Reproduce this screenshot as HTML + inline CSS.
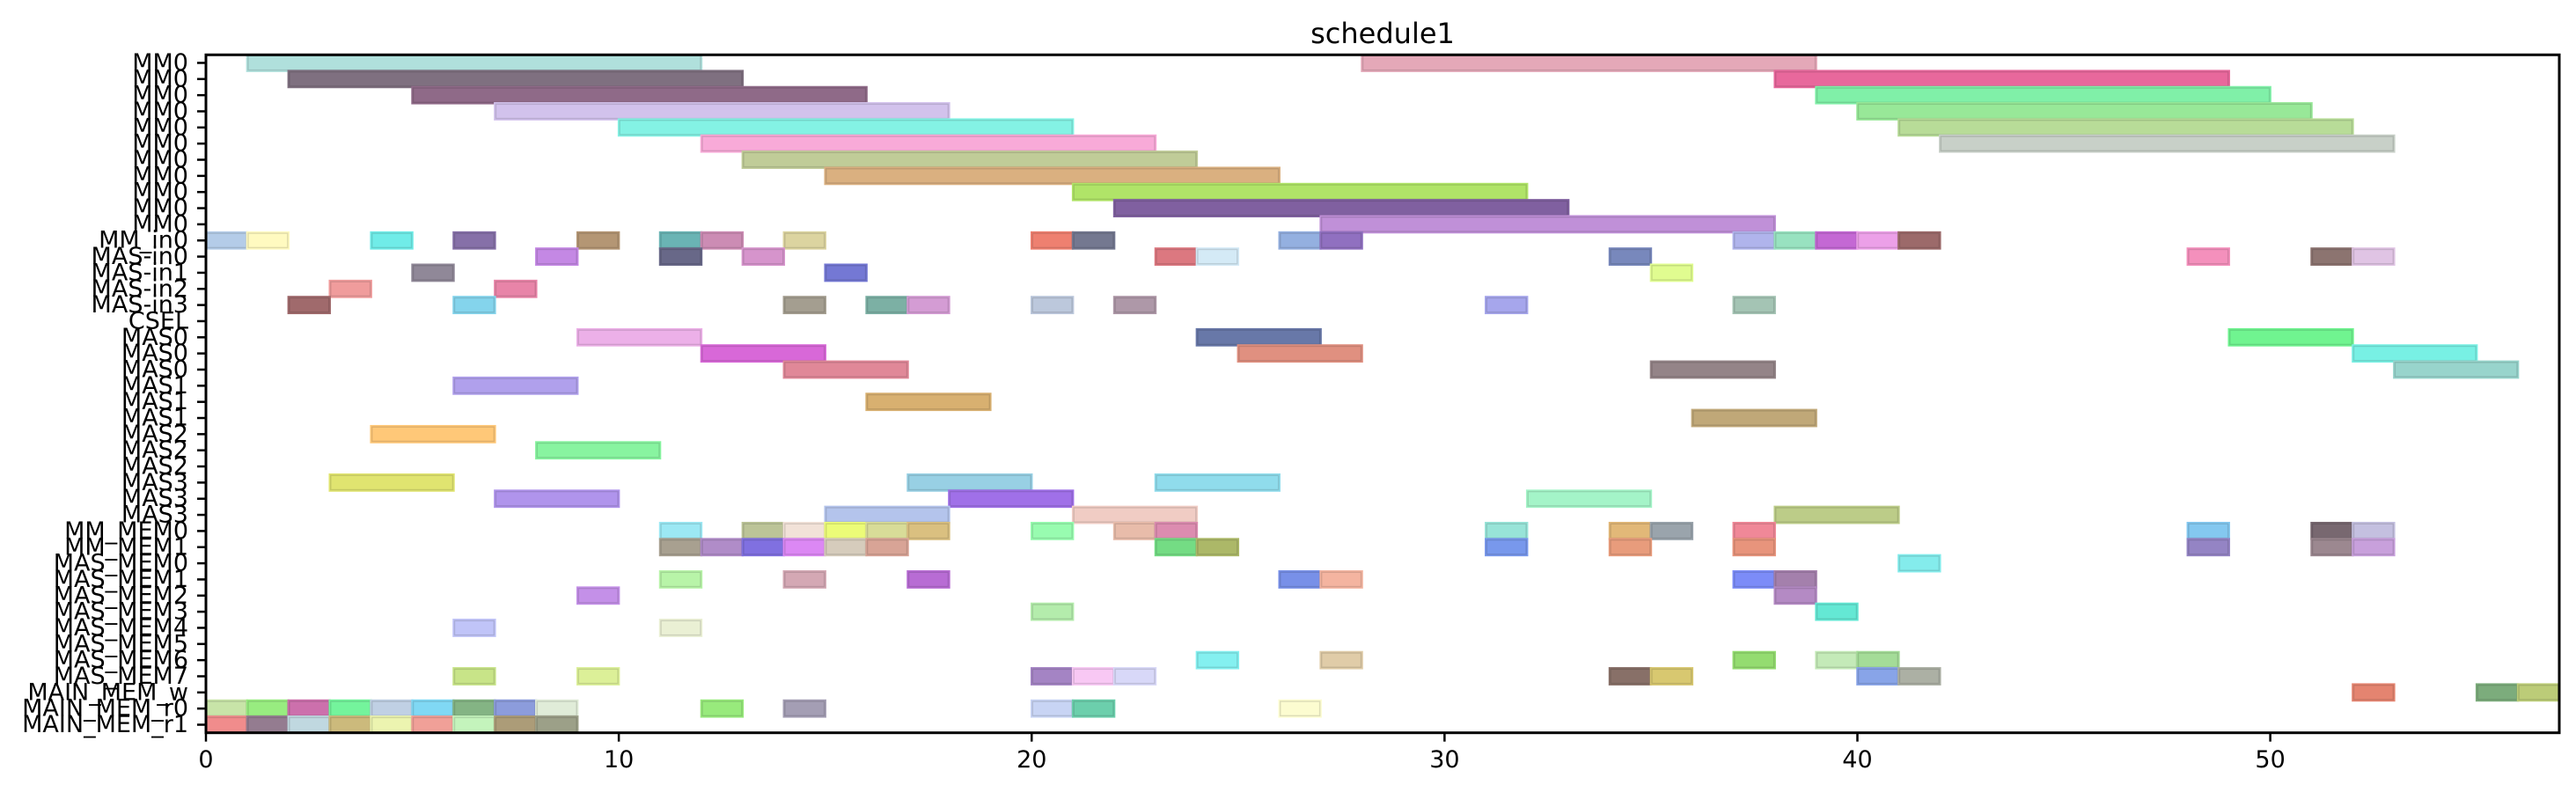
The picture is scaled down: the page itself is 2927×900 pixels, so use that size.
<!DOCTYPE html>
<html><head><meta charset="utf-8"><title>schedule1</title>
<style>html,body{margin:0;padding:0;background:#fff;}svg{display:block;font-family:"DejaVu Sans","Liberation Sans",sans-serif;}</style>
</head><body>
<svg id="chart" xmlns="http://www.w3.org/2000/svg" width="2927" height="900" viewBox="0 0 2927 900">
<rect width="2927" height="900" fill="#fff"/>
<text x="1571" y="38" font-size="32" text-anchor="middle" dominant-baseline="central">schedule1</text>
<defs><clipPath id="plotclip"><rect x="234" y="62" width="2674" height="771"/></clipPath></defs>
<g id="bars" clip-path="url(#plotclip)"></g>
<g id="axes"></g>
</svg>
<script>
const rowLabels = ["MM0","MM0","MM0","MM0","MM0","MM0","MM0","MM0","MM0","MM0","MM0","MM_in0","MAS-in0","MAS-in1","MAS-in2","MAS-in3","CSEL","MAS0","MAS0","MAS0","MAS1","MAS1","MAS1","MAS2","MAS2","MAS2","MAS3","MAS3","MAS3","MM_MEM0","MM_MEM1","MAS_MEM0","MAS_MEM1","MAS_MEM2","MAS_MEM3","MAS_MEM4","MAS_MEM5","MAS_MEM6","MAS_MEM7","MAIN_MEM_w","MAIN_MEM_r0","MAIN_MEM_r1"];
const xTicks = [0,10,20,30,40,50];
const rowStarts = [
[1,28],[2,38],[5,39],[7,40],[10,41],[12,42],[13],[15],[21],[22],[27],
[0,1,4,6,9,11,12,14,20,21,26,27,37,38,39,40,41],
[8,11,13,23,24,34,48,51,52],
[5,15,35],
[3,7],
[2,6,14,16,17,20,22,31,37],
[],
[9,24,49],[12,25,52],[14,35,53],
[6],[16],[36],
[4],[8],[],
[3,17,23],[7,18,32],[15,21,38],
[11,13,14,15,16,17,20,22,23,31,34,35,37,48,51,52],
[11,12,13,14,15,16,23,24,31,34,37,48,51,52],
[41],
[11,14,17,26,27,37,38],
[9,38],
[20,39],
[6,11],
[],
[24,27,37,39,40],
[6,9,20,21,22,34,35,40,41],
[52,55,56],
[0,1,2,3,4,5,6,7,8,12,14,20,21,26],
[0,1,2,3,4,5,6,7,8]
];
const rowDurs = rowStarts.map((a,i)=> i<=10 ? a.map(()=>11) : (i>=17 && i<=28 ? a.map(()=>3) : a.map(()=>1)));
const rowColors = [
['#b0e0dc','#e4a8b8'],['#7f7080','#e8689c'],['#8f6a88','#80f0a8'],['#d2c2ec','#98e898'],['#84f2e4','#b8dc98'],['#f8aad8','#c8d0c8'],['#c0cc98'],['#dab080'],['#b0e468'],['#8060a0'],['#c090d8'],
['#b4cce8','#fffac0','#70ece8','#8670a8','#b49674','#6ab4b4','#cc8cb4','#dcd4a0','#ee8070','#747890','#94b0e0','#9070c0','#b0b4ec','#98e2c0','#c468d4','#eca0e8','#9c6a6a'],
['#c488e4','#686888','#d694cc','#dc7880','#d4eaf6','#7888bc','#f490bc','#8c7470','#e0c4e4'],
['#908898','#7478d4','#e0fc90'],
['#f09c9c','#e884a8'],
['#a06a6c','#84d4ec','#a49e90','#7cb0a4','#d49cd4','#bcc8dc','#ae98a8','#a6a6ec','#a4c4b4'],
[],
['#ecb0e8','#6878a8','#70f490'],['#d868d8','#e09080','#78f0e4'],['#e08898','#948488','#98d4cc'],
['#b0a0ec'],['#d8b070'],['#c0a878'],
['#ffc878'],['#88f4a0'],[],
['#e0e470','#98d0e4','#90dcec'],['#b094ec','#a070e8','#a4f4c8'],['#b4c4ec','#f0ccc4','#bccc88'],
['#9ce8f4','#bcc498','#f2e2d8','#ecfc78','#d8dc98','#dac080','#98fcb0','#e8bcaa','#dc8cb0','#98e4d8','#e2b878','#9aa4ac','#f08898','#84c8f0','#786870','#c4c0e0'],
['#a8a090','#b08cc8','#8070e0','#dc88f4','#d6ccbc','#d8a496','#74dc84','#acb868','#7898ec','#e89c7c','#e8947c','#9484c4','#9c8890','#c8a0dc'],
['#84ecec'],
['#b8f4a8','#d4a8b4','#b86cd4','#7890e8','#f4b4a0','#7c8cf8','#a480ac'],
['#c490e8','#b48ac4'],
['#b4ecac','#64e8d4'],
['#c0c4f8','#eaf0d4'],
[],
['#84f0f0','#e0cca8','#94dc70','#c4eab8','#a4dc98'],
['#c8e488','#dcf098','#a484c4','#f8c8f4','#d8d8f8','#887068','#d8c870','#88a4e8','#acb0a4'],
['#e48470','#7cac7c','#bccc78'],
['#c8e4a8','#98ec80','#cc70ac','#74f49c','#c0d0e4','#80d8f4','#84b484','#8c9cdc','#e0ecd8','#98ea7c','#a49eb4','#c8d4f4','#6ccfac','#fcfcd0'],
['#f08c8c','#947c90','#c0d8e0','#ccba7c','#ecf4b0','#f0a098','#c4f4bc','#ac9c78','#9ca088']
];

const X0=234, X1=2908, Y0=62.3, Y1=832.7, XMIN=0, XMAX=57;
const nRows = rowLabels.length;
function xs(v){ return X0 + (v-XMIN)/(XMAX-XMIN)*(X1-X0); }
function ys(r){ return Y0 + (r+0.5)/nRows*(Y1-Y0); }
const rowH = (Y1-Y0)/nRows;
const NS="http://www.w3.org/2000/svg";
const bars=document.getElementById('bars');
const axes=document.getElementById('axes');
function mk(tag,attrs,parent){const e=document.createElementNS(NS,tag);for(const k in attrs)e.setAttribute(k,attrs[k]);parent.appendChild(e);return e;}

rowStarts.forEach((starts,r)=>{
  starts.forEach((s,j)=>{
    const d=rowDurs[r][j];
    const rect=mk('rect',{x:xs(s),y:ys(r)-rowH/2,width:xs(s+d)-xs(s),height:rowH,fill:rowColors[r][j],stroke:rowColors[r][j],'stroke-width':2.5},bars);
    
    
    const edge=mk('rect',{x:xs(s)+1,y:ys(r)-rowH/2+1,width:xs(s+d)-xs(s)-2,height:rowH-2,fill:'none',stroke:'rgba(0,0,0,0.12)','stroke-width':1.5},bars);
    
    
  });
});

const frame=mk('rect',{x:X0,y:Y0,width:X1-X0,height:Y1-Y0,fill:'none',stroke:'#000','stroke-width':3},axes);



rowLabels.forEach((lab,r)=>{
  const y=ys(r);
  const t=mk('line',{x1:X0-10,x2:X0,y1:y,y2:y,stroke:'#000','stroke-width':2.5},axes);
  
  
  const tx=mk('text',{x:X0-20,y:y,'font-size':27,'text-anchor':'end','dominant-baseline':'central'},axes);
  tx.textContent=lab;
  
  
});
xTicks.forEach(v=>{
  const x=xs(v);
  const t=mk('line',{x1:x,x2:x,y1:Y1,y2:Y1+10,stroke:'#000','stroke-width':2.5},axes);
  
  
  const tx=mk('text',{x:x,y:Y1+31,'font-size':27,'text-anchor':'middle','dominant-baseline':'central'},axes);
  tx.textContent=String(v);
  
  
});
</script>
</body></html>
